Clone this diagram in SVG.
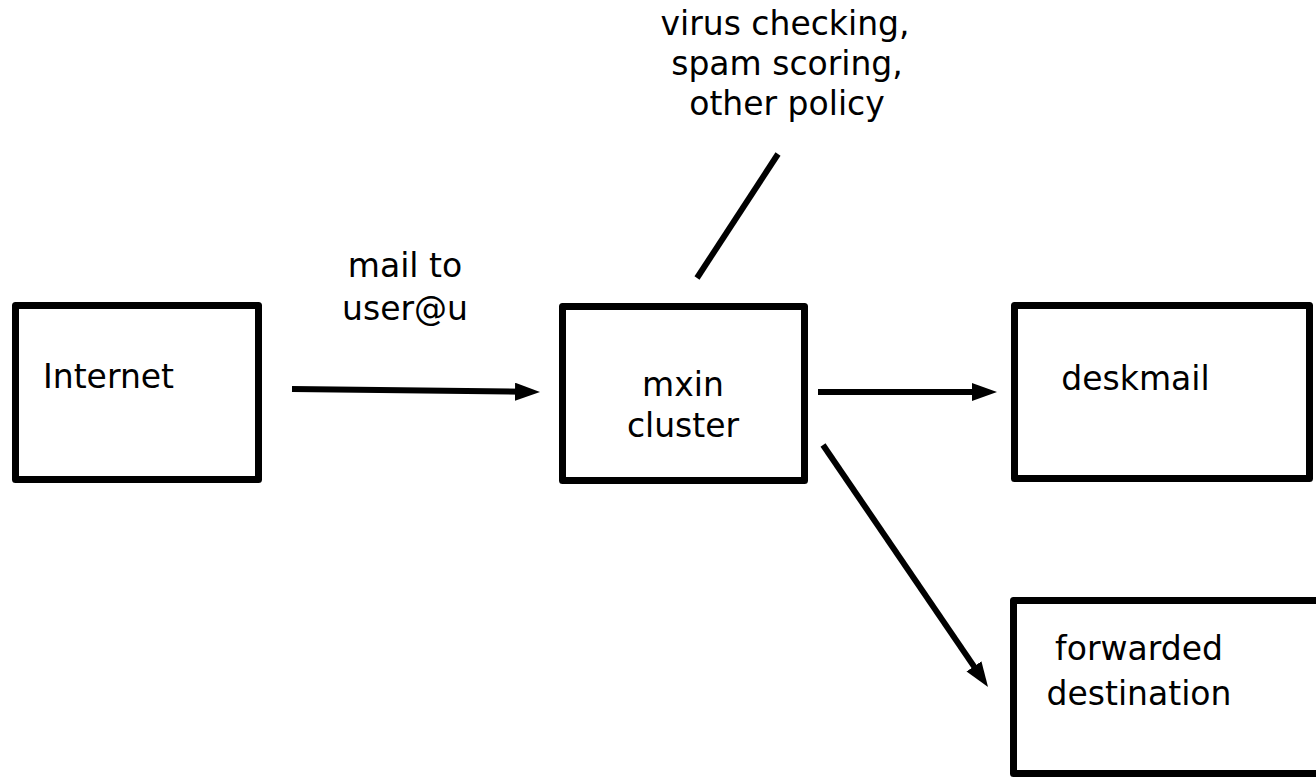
<svg xmlns="http://www.w3.org/2000/svg" width="1316" height="779" viewBox="0 0 1316 779">
  <style>
    .box { fill: #ffffff; stroke: #000000; stroke-width: 7; stroke-linejoin: round; }
    .lbl { font-family: "DejaVu Sans", Verdana, sans-serif; font-size: 33px; fill: #000000; }
    .mid { text-anchor: middle; }
    .conn { stroke: #000000; stroke-width: 6; fill: none; }
  </style>
  <defs>
    <marker id="arrow" markerUnits="userSpaceOnUse" markerWidth="26" markerHeight="20" refX="10" refY="9" orient="auto">
      <path d="M0,0 L25,9 L0,18 z" fill="#000000"/>
    </marker>
  </defs>
  <rect width="1316" height="779" fill="#ffffff"/>

  <g id="internet">
    <rect class="box" x="15.5" y="305.5" width="243" height="174"/>
    <text class="lbl" x="43" y="388">Internet</text>
  </g>

  <g id="mxin">
    <rect class="box" x="562.5" y="306.5" width="242" height="174"/>
    <text class="lbl mid" x="683" y="396">mxin</text>
    <text class="lbl mid" x="683" y="437">cluster</text>
  </g>

  <g id="deskmail">
    <rect class="box" x="1014.5" y="305.5" width="295" height="173"/>
    <text class="lbl mid" x="1135.5" y="390">deskmail</text>
  </g>

  <g id="forwarded">
    <rect class="box" x="1013.5" y="600.5" width="320" height="173"/>
    <text class="lbl mid" x="1139" y="660">forwarded</text>
    <text class="lbl mid" x="1139" y="705">destination</text>
  </g>

  <g id="policy">
    <text class="lbl mid" x="785" y="35">virus checking,</text>
    <text class="lbl mid" x="787" y="75">spam scoring,</text>
    <text class="lbl mid" x="787" y="115">other policy</text>
  </g>

  <g id="mail-label">
    <text class="lbl mid" x="405" y="277">mail to</text>
    <text class="lbl mid" x="405" y="320">user@u</text>
  </g>

  <g id="connectors">
    <line class="conn" x1="292" y1="389" x2="525" y2="391.8" marker-end="url(#arrow)"/>
    <line class="conn" x1="818" y1="392" x2="982" y2="392" marker-end="url(#arrow)"/>
    <line class="conn" x1="823" y1="445" x2="979.6" y2="674.6" marker-end="url(#arrow)"/>
    <line class="conn" x1="778" y1="154" x2="697" y2="278"/>
  </g>
</svg>
